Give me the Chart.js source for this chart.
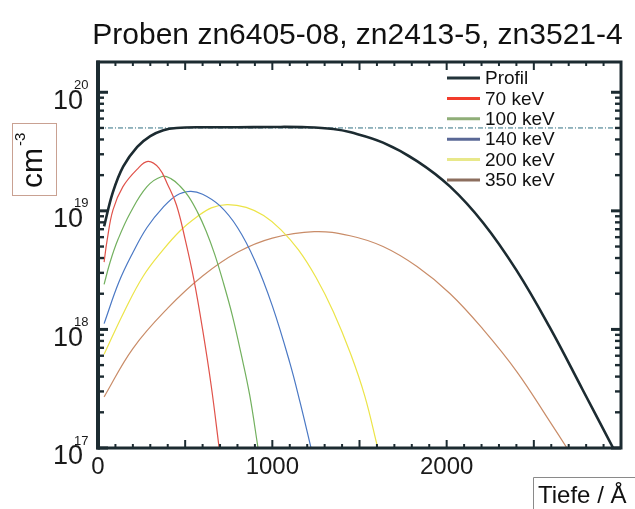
<!DOCTYPE html>
<html lang="de">
<head>
<meta charset="UTF-8" />
<script src="https://cdn.jsdelivr.net/npm/chart.js@4.4.1/dist/chart.umd.min.js"></script>
<title>Proben zn6405-08, zn2413-5, zn3521-4</title>
<style>
  body { margin: 0; background: #fff; }
</style>
</head>
<body>
<canvas id="chart" width="635" height="509"></canvas>
<script>
// depth in Angstrom, concentration in cm^-3
const profilDepth = [35, 85, 145, 225, 300, 375, 450, 600, 800, 1000, 1200, 1350, 1450, 1635, 1830, 2020, 2210, 2400, 2590, 2780, 2955]
const profilConc = [7.4e18, 1.43e19, 2.37e19, 3.47e19, 4.27e19, 4.79e19, 5.0e19, 5.07e19, 5.07e19, 5.1e19, 5.07e19, 4.9e19, 4.59e19, 3.76e19, 2.63e19, 1.6e19, 7.9e18, 3.16e18, 1.05e18, 3.1e17, 1.0e17]

const kev70Depth = [35, 52, 86, 143, 224, 287, 350, 400, 450, 500, 550, 600, 650, 695]
const kev70Conc = [3.7e18, 5.6e18, 1.02e19, 1.6e19, 2.24e19, 2.61e19, 2.29e19, 1.66e19, 1.12e19, 5.75e18, 2.63e18, 1.0e18, 3.3e17, 1.0e17]

const kev100Depth = [35, 70, 115, 184, 281, 367, 420, 470, 520, 570, 620, 670, 720, 770, 820, 870, 918]
const kev100Conc = [2.4e18, 3.72e18, 5.75e18, 9.55e18, 1.6e19, 1.95e19, 1.86e19, 1.62e19, 1.32e19, 9.8e18, 6.76e18, 4.27e18, 2.45e18, 1.32e18, 6.3e17, 2.8e17, 1.0e17]

const kev140Depth = [35, 120, 201, 281, 373, 450, 528, 600, 700, 800, 900, 1000, 1100, 1160, 1222]
const kev140Conc = [1.12e18, 2.51e18, 4.47e18, 7.24e18, 1.07e19, 1.35e19, 1.46e19, 1.38e19, 1.1e19, 7.24e18, 3.8e18, 1.58e18, 5.25e17, 2.4e17, 1.0e17]

const kev200Depth = [35, 150, 260, 373, 470, 568, 650, 740, 850, 950, 1050, 1150, 1250, 1350, 1450, 1530, 1605]
const kev200Conc = [6.17e17, 1.41e18, 2.82e18, 4.68e18, 6.76e18, 8.91e18, 1.06e19, 1.13e19, 1.07e19, 9.12e18, 6.92e18, 4.68e18, 2.75e18, 1.41e18, 6.17e17, 2.75e17, 1.0e17]

const kev350Depth = [35, 200, 400, 600, 800, 1000, 1240, 1446, 1635, 1830, 2020, 2209, 2404, 2593, 2690]
const kev350Conc = [2.7e17, 6.9e17, 1.51e18, 2.82e18, 4.47e18, 5.89e18, 6.68e18, 6.17e18, 5.0e18, 3.39e18, 2.0e18, 1.0e18, 4.37e17, 1.66e17, 1.0e17]

const plateauLevel = 5e19
const seriesNames = ['Profil', '70 keV', '100 keV', '140 keV', '200 keV', '350 keV']
const xTickLabels = [0, 1000, 2000]
const yDecades = [17, 18, 19, 20]

const ink = '#1c2b31'
const lineColors = [ink, '#e0524a', '#72b05e', '#4a78c4', '#ece448', '#c98c68']
const legendColors = ['#23343a', '#f23c2c', '#8fae78', '#5a6896', '#e8e88a', '#8c6e5e']
const font = '"Liberation Sans", Arial, sans-serif'

function points(xs, ys) {
  return xs.map((v, i) => ({ x: v, y: ys[i] }))
}

const depths = [profilDepth, kev70Depth, kev100Depth, kev140Depth, kev200Depth, kev350Depth]
const concs = [profilConc, kev70Conc, kev100Conc, kev140Conc, kev200Conc, kev350Conc]

let datasets = seriesNames.map((name, i) => ({
  label: name,
  data: points(depths[i], concs[i]),
  borderColor: lineColors[i],
  borderWidth: i === 0 ? 2.6 : 1.2,
  pointRadius: 0,
  tension: 0.4,
  fill: false,
}))
datasets.push({
  label: 'plateau',
  data: [{ x: 0, y: plateauLevel }, { x: 3000, y: plateauLevel }],
  borderColor: '#2f6f80',
  borderWidth: 1,
  borderDash: [5, 2, 1, 2],
  pointRadius: 0,
})

// frame with inward ticks, labels, legend, titles
const decorations = {
  id: 'decorations',
  afterDraw(chart) {
    const { ctx, chartArea: a, scales } = chart
    const x = scales.x, y = scales.y
    ctx.save()
    ctx.strokeStyle = ink
    ctx.fillStyle = ink

    function seg(x1, y1, x2, y2, w) {
      ctx.lineWidth = w
      ctx.beginPath(); ctx.moveTo(x1, y1); ctx.lineTo(x2, y2); ctx.stroke()
    }

    for (let v = 100; v < 3000; v += 100) {
      const px = x.getPixelForValue(v)
      const len = v % 500 === 0 ? 8 : 4
      seg(px, a.bottom, px, a.bottom - len, 2)
      seg(px, a.top, px, a.top + len, 2)
    }
    for (let e = 17; e <= 20; e++) {
      for (let m = 1; m <= 9; m++) {
        const v = m * Math.pow(10, e)
        if (v < y.min || v > y.max) continue
        const py = y.getPixelForValue(v)
        const len = m === 1 ? 10 : 6
        const w = m === 1 ? 3 : 2.4
        seg(a.left, py, a.left + len, py, w)
        seg(a.right, py, a.right - len, py, w)
      }
    }
    ctx.lineWidth = 3
    ctx.strokeRect(a.left, a.top, a.right - a.left, a.bottom - a.top)
    seg(a.left, a.top - 1.5, a.left, a.bottom + 1.5, 4)

    // x tick labels
    ctx.fillStyle = '#1a1a1a'
    ctx.font = '24px ' + font
    ctx.textAlign = 'center'
    ctx.textBaseline = 'middle'
    xTickLabels.forEach(v => ctx.fillText(String(v), x.getPixelForValue(v), a.bottom + 19))

    // y tick labels 10^n
    yDecades.forEach(e => {
      const py = y.getPixelForValue(Math.pow(10, e))
      ctx.font = '27px ' + font
      ctx.textAlign = 'right'
      ctx.textBaseline = 'middle'
      ctx.fillText('10', 83, py + 9)
      ctx.font = '13px ' + font
      ctx.textAlign = 'left'
      ctx.fillText(String(e), 74, py - 7)
    })

    // title
    ctx.font = '30px ' + font
    ctx.textAlign = 'center'
    ctx.textBaseline = 'alphabetic'
    ctx.fillStyle = '#111'
    ctx.fillText('Proben zn6405-08, zn2413-5, zn3521-4', (a.left + a.right) / 2 - 2, 44)

    // legend
    ctx.font = '19px ' + font
    ctx.textAlign = 'left'
    ctx.textBaseline = 'middle'
    seriesNames.forEach((name, i) => {
      const ly = 78 + i * 20.4
      ctx.strokeStyle = legendColors[i]
      seg(447, ly, 480, ly, 3)
      ctx.fillStyle = '#111'
      ctx.fillText(name, 485, ly + 1)
    })

    // y axis title box
    ctx.strokeStyle = '#c9a192'
    ctx.lineWidth = 1
    ctx.strokeRect(12.5, 123.5, 44, 72)
    ctx.save()
    ctx.translate(34, 164)
    ctx.rotate(-Math.PI / 2)
    ctx.fillStyle = '#111'
    ctx.font = '30px ' + font
    ctx.textAlign = 'center'
    ctx.textBaseline = 'middle'
    ctx.fillText('cm', -4, 0)
    ctx.font = '15px ' + font
    ctx.textAlign = 'left'
    ctx.fillText('-3', 18, -13)
    ctx.restore()

    // x axis title box
    ctx.strokeStyle = '#8a8a8a'
    ctx.beginPath()
    ctx.moveTo(533.5, 509); ctx.lineTo(533.5, 477.5); ctx.lineTo(635, 477.5)
    ctx.stroke()
    ctx.fillStyle = '#111'
    ctx.font = '24px ' + font
    ctx.textAlign = 'left'
    ctx.textBaseline = 'alphabetic'
    ctx.fillText('Tiefe / Å', 538, 503)
    ctx.restore()
  }
}

new Chart(document.getElementById('chart'), {
  type: 'line',
  data: { datasets: datasets },
  options: {
    responsive: false,
    animation: false,
    layout: { padding: { left: 98, right: 14, top: 62, bottom: 61 } },
    plugins: {
      legend: { display: false },
      title: { display: false },
      tooltip: { enabled: false },
    },
    scales: {
      x: { type: 'linear', min: 0, max: 3000, display: false },
      y: { type: 'logarithmic', min: 1e17, max: 1.8e20, display: false },
    },
  },
  plugins: [decorations],
})
</script>
</body>
</html>
